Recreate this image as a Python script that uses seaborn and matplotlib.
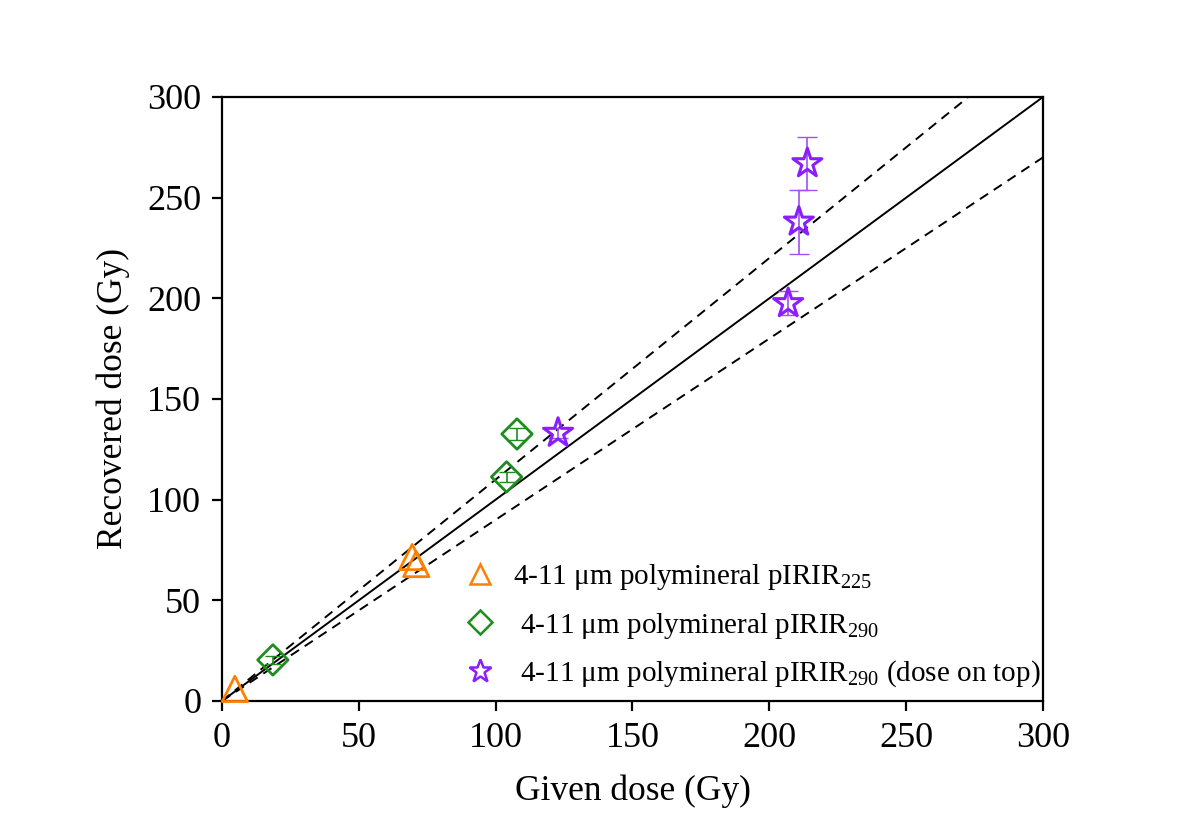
import matplotlib
matplotlib.use("Agg")
import matplotlib.pyplot as plt
import seaborn as sns
import numpy as np
import pandas as pd
from matplotlib.lines import Line2D

# Data
tri_given = [4.7, 69.5, 71.0]
tri_recov = [6.0, 71.5, 68.0]

dia_given = [18.6, 104.0, 107.8]
dia_recov = [20.4, 111.3, 132.6]
dia_err = [2.0, 2.5, 3.0]

star_given = [122.8, 206.9, 210.8, 213.9]
star_recov = [133.1, 197.5, 238.0, 267.0]
star_err = [2.5, 6.0, 16.0, 13.0]

ref_x = [0, 300]
ratio_lines = [1.0, 1.1, 0.9]

labels = ["4-11 \u03bcm polymineral pIRIR$_{225}$",
          " 4-11 \u03bcm polymineral pIRIR$_{290}$",
          " 4-11 \u03bcm polymineral pIRIR$_{290}$ (dose on top)"]

sns.set_theme(style="ticks")
plt.rcParams['font.family'] = ['Liberation Serif', 'DejaVu Serif']
plt.rcParams['mathtext.fontset'] = 'custom'
plt.rcParams['mathtext.rm'] = 'Liberation Serif'
plt.rcParams['mathtext.it'] = 'Liberation Serif'
for k in ['text.color', 'axes.labelcolor', 'xtick.color', 'ytick.color',
          'xtick.labelcolor', 'ytick.labelcolor']:
    plt.rcParams[k] = 'black'

fig = plt.figure(figsize=(11.98, 8.34), dpi=100)
ax = fig.add_axes([0.1853, 0.1595, 0.6853, 0.7242])

orange = "#FF8000"
green = "#1E8C1E"
purple = "#8A1EFF"

# Reference lines (1:1 and +/-10%)
for r in ratio_lines:
    df = pd.DataFrame({"x": ref_x, "y": [v * r for v in ref_x]})
    sns.lineplot(data=df, x="x", y="y", ax=ax, color="black", lw=1.4, legend=False)
for line, r in zip(ax.get_lines(), ratio_lines):
    if r != 1.0:
        line.set_linestyle((0, (5, 3.5)))

# Error bars
ax.errorbar(dia_given, dia_recov, yerr=dia_err, fmt='none', ecolor=green, elinewidth=1.2, capsize=6, zorder=3)
ax.errorbar(star_given, star_recov, yerr=star_err, fmt='none', ecolor="#A050F5", elinewidth=1.2, capsize=7, zorder=3)

sns.scatterplot(x=tri_given, y=tri_recov, marker='^', s=330, facecolor='none',
                edgecolor=orange, linewidth=2.0, ax=ax, zorder=4, clip_on=False)
sns.scatterplot(x=dia_given, y=dia_recov, marker='D', s=240, facecolor='none',
                edgecolor=green, linewidth=2.0, ax=ax, zorder=4, clip_on=False)
sns.scatterplot(x=star_given, y=star_recov, marker='*', s=480, facecolor='none',
                edgecolor=purple, linewidth=2.2, ax=ax, zorder=4, clip_on=False)

ax.set_xlim(0, 300)
ax.set_ylim(0, 300)
ax.set_xticks(range(0, 301, 50))
ax.set_yticks(range(0, 301, 50))
for s in ax.spines.values():
    s.set_linewidth(1.6)
    s.set_color("black")
ax.tick_params(axis='both', direction='out', length=7, width=1.6, labelsize=26, pad=8,
               top=False, right=False, colors='black')
ax.set_xlabel("Given dose (Gy)", fontsize=25.5, labelpad=14)
ax.set_ylabel("Recovered dose (Gy)", fontsize=25.5, labelpad=12)

handles = [
    Line2D([], [], marker='^', ls='none', markersize=15, markerfacecolor='none', markeredgecolor=orange, markeredgewidth=1.8),
    Line2D([], [], marker='D', ls='none', markersize=12, markerfacecolor='none', markeredgecolor=green, markeredgewidth=1.8),
    Line2D([], [], marker='*', ls='none', markersize=17, markerfacecolor='none', markeredgecolor=purple, markeredgewidth=1.8),
]
ax.legend(handles, labels, loc='lower left', bbox_to_anchor=(0.265, 0.0), frameon=False,
          fontsize=21, handletextpad=0.12, labelspacing=0.62, borderaxespad=0.0)

fig.savefig("out.png", dpi=100, facecolor="white")
